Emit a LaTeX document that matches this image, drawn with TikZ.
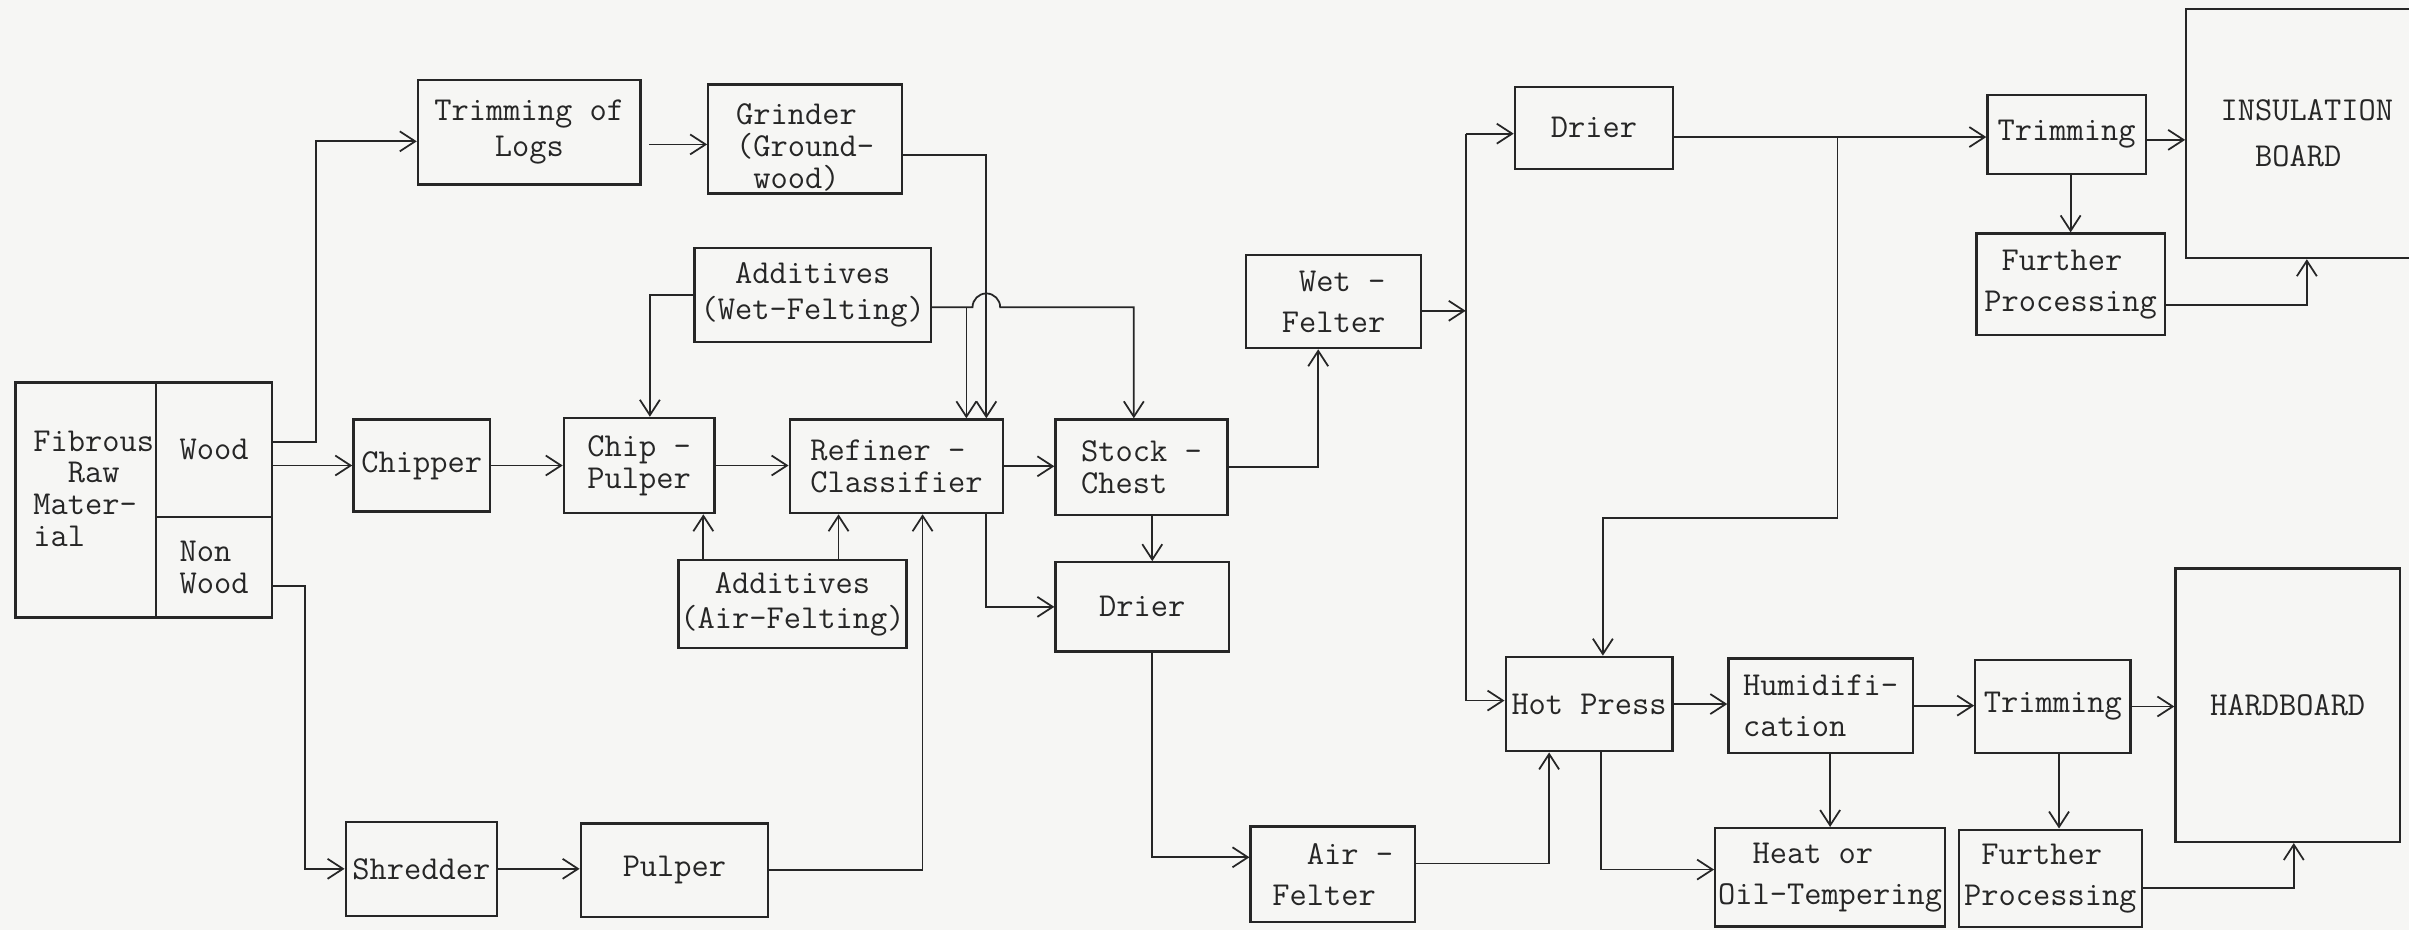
\documentclass[tikz,border=0pt]{standalone}
\usetikzlibrary{arrows.meta,calc}
\definecolor{ink}{HTML}{262626}
\definecolor{paper}{HTML}{F6F6F4}
\begin{document}
\begin{tikzpicture}[x=0.02cm,y=-0.02cm,
  every node/.style={text=ink},
  box/.style={draw=ink,line width=0.85pt,inner sep=0pt,align=left,font=\fontsize{12.4}{13.2}\selectfont\ttfamily},
  tight/.style={font=\fontsize{12.4}{11.7}\selectfont\ttfamily},
  wide/.style={font=\fontsize{12.4}{15.2}\selectfont\ttfamily},
  txt/.style={inner sep=0pt,align=left,font=\fontsize{12.4}{11.7}\selectfont\ttfamily},
  arr/.style={draw=ink,line width=0.65pt,-{Straight Barb[length=2mm,width=2.6mm]}},
  ln/.style={draw=ink,line width=0.65pt}]
\useasboundingbox (0,0) rectangle (1568,605);
\fill[paper] (0,0) rectangle (1568,605);
\clip (0,0) rectangle (1568,605);

% ---------- boxes ----------
\node[box,minimum width=1.832cm,minimum height=3.06cm] (fibl) at (55.8,325.5) {};
\node[txt] (fibtxt) at (61,318) {Fibrous\\~~Raw\\Mater-\\ial};
\node[box,minimum width=1.508cm,minimum height=1.752cm] (wood) at (139.3,292.8) {Wood};
\node[box,tight,minimum width=1.508cm,minimum height=1.308cm] (nonwood) at (139.3,369.3) {Non\\Wood};
\node[box,align=center,minimum width=2.9cm,minimum height=1.36cm] (trimlogs) at (344.5,86) {Trimming of\\Logs};
\node[box,minimum width=2.52cm,minimum height=1.42cm] (grinder) at (524,90.5) {};
\node[txt] (grindtxt) at (524,96) {Grinder\\(Ground-\\~wood)};
\node[box,align=center,minimum width=3.08cm,minimum height=1.22cm] (addwet) at (529,192) {Additives\\(Wet-Felting)};
\node[box,minimum width=1.78cm,minimum height=1.2cm] (chipper) at (274.5,303) {Chipper};
\node[box,tight,minimum width=1.96cm,minimum height=1.24cm] (chippulp) at (416,303) {Chip -\\Pulper};
\node[box,tight,minimum width=2.78cm,minimum height=1.22cm] (refiner) at (583.5,303.5) {Refiner -\\Classifier};
\node[box,tight,minimum width=2.24cm,minimum height=1.24cm] (stock) at (743,304) {Stock -\\Chest};
\node[box,minimum width=2.26cm,minimum height=1.16cm] (drier2) at (743.5,395) {Drier};
\node[box,align=center,minimum width=2.968cm,minimum height=1.148cm] (addair) at (515.8,393.3) {Additives\\(Air-Felting)};
\node[box,wide,minimum width=2.28cm,minimum height=1.212cm] (wetfelter) at (868,196.3) {~Wet -\\Felter};
\node[box,minimum width=2.06cm,minimum height=1.072cm] (drier1) at (1037.5,83.2) {Drier};
\node[box,minimum width=2.06cm,minimum height=1.03cm] (trim1) at (1345.1,87.55) {Trimming};
\node[box,wide,minimum width=2.45cm,minimum height=1.32cm] (fp1) at (1347.75,185) {~Further\\Processing};
\node[box,font=\fontsize{12.4}{17}\selectfont\ttfamily,minimum width=3.14cm,minimum height=3.24cm] (board1) at (1501.5,87) {INSULATION\\~~BOARD};
\node[box,minimum width=2.172cm,minimum height=1.23cm] (hotpress) at (1034.3,458.25) {Hot Press};
\node[box,wide,minimum width=2.4cm,minimum height=1.228cm] (humid) at (1185,459.3) {Humidifi-\\cation};
\node[box,minimum width=2.02cm,minimum height=1.206cm] (trim2) at (1336.2,459.85) {Trimming};
\node[box,minimum width=2.92cm,minimum height=3.56cm] (hard) at (1489,459) {HARDBOARD};
\node[box,wide,minimum width=2.992cm,minimum height=1.28cm] (heat) at (1191.2,571) {~~Heat or\\Oil-Tempering};
\node[box,wide,minimum width=2.38cm,minimum height=1.27cm] (fp2) at (1334.5,571.75) {~Further\\Processing};
\node[box,wide,minimum width=2.14cm,minimum height=1.24cm] (airfelter) at (867.5,569) {~~Air -\\Felter};
\node[box,minimum width=1.972cm,minimum height=1.22cm] (shredder) at (274.3,565.5) {Shredder};
\node[box,minimum width=2.44cm,minimum height=1.22cm] (pulper) at (439,566.5) {Pulper};

% ---------- connectors ----------
\draw[arr] ($(wood.east)+(0,-5)$) -- ++(28,0) |- ($(trimlogs.west)+(0,6)$);
\draw[arr] (wood.east |- chipper.west) -- (chipper.west);
\draw[arr] ($(nonwood.east)+(0,12)$) -- ++(21,0) |- (shredder.west);
\draw[arr] (shredder.east) -- (shredder.east -| pulper.west);
\draw[arr] (pulper.east) -| ($(refiner.south)+(17,0)$);
\draw[arr] (chipper.east) -- (chippulp.west);
\draw[arr] (chippulp.east) -- (chippulp.east -| refiner.west);
\draw[arr] (refiner.east) -- (refiner.east -| stock.west);
\draw[arr] ($(trimlogs.east)+(5,8)$) coordinate (tl) -- (tl -| grinder.west);
\draw[arr] ($(grinder.east)+(0,10.5)$) -| ($(refiner.north)+(58.5,0)$);
\draw[arr] (addwet.west) -| ($(chippulp.north)+(7,0)$);
\draw[arr] ($(addwet.east)+(0,8)$) -- (633,200) arc[start angle=180,end angle=360,radius=9] -| ($(stock.north)+(-5,0)$);
\coordinate (j1) at (629,200);
\draw[arr] (j1) -- (j1 |- refiner.north);
\draw[arr] ($(addair.north)+(-58,0)$) coordinate (aa1) -- (aa1 |- chippulp.south);
\draw[arr] ($(addair.north)+(30,0)$) coordinate (aa2) -- (aa2 |- refiner.south);
\draw[arr] ($(refiner.south)+(58.5,0)$) |- (drier2.west);
\draw[arr] ($(stock.south)+(7,0)$) coordinate (sd) -- (sd |- drier2.north);
\draw[arr] (stock.east) -| ($(wetfelter.south)+(-10,0)$);
\draw[arr] ($(drier2.south)+(6.5,0)$) |- ($(airfelter.west)+(0,-11)$);
\draw[arr] ($(airfelter.east)+(0,-7)$) -| ($(hotpress.south)+(-26,0)$);
\coordinate (busT) at (954,87);
\coordinate (busB) at (954,456);
\draw[ln] (busT) -- (busB);
\draw[arr] (busT) -- (busT -| drier1.west);
\draw[arr] (busB) -- (busB -| hotpress.west);
\draw[arr] ($(wetfelter.east)+(0,6)$) coordinate (wf) -- (wf -| busT);
\draw[arr] ($(drier1.east)+(0,6)$) coordinate (d1) -- (d1 -| trim1.west);
\coordinate (br) at (1196,89.2);
\draw[arr] (br) -- (1196,337) -| ($(hotpress.north)+(9,0)$);
\draw[arr] ($(trim1.east)+(0,3.5)$) coordinate (t1) -- (t1 -| board1.west);
\draw[arr] (fp1.north |- trim1.south) -- (fp1.north);
\draw[arr] ($(fp1.east)+(0,13.5)$) -| (board1.south);
\draw[arr] (hotpress.east) -- (hotpress.east -| humid.west);
\draw[arr] (humid.east) -- (humid.east -| trim2.west);
\draw[arr] (trim2.east) -- (trim2.east -| hard.west);
\draw[arr] (heat.north |- humid.south) -- (heat.north);
\draw[arr] ($(hotpress.south)+(8,0)$) |- ($(heat.west)+(0,-5)$);
\draw[arr] ($(trim2.south)+(4,0)$) coordinate (t2) -- (t2 |- fp2.north);
\draw[arr] ($(fp2.east)+(0,6)$) -| ($(hard.south)+(4,0)$);
\end{tikzpicture}
\end{document}
